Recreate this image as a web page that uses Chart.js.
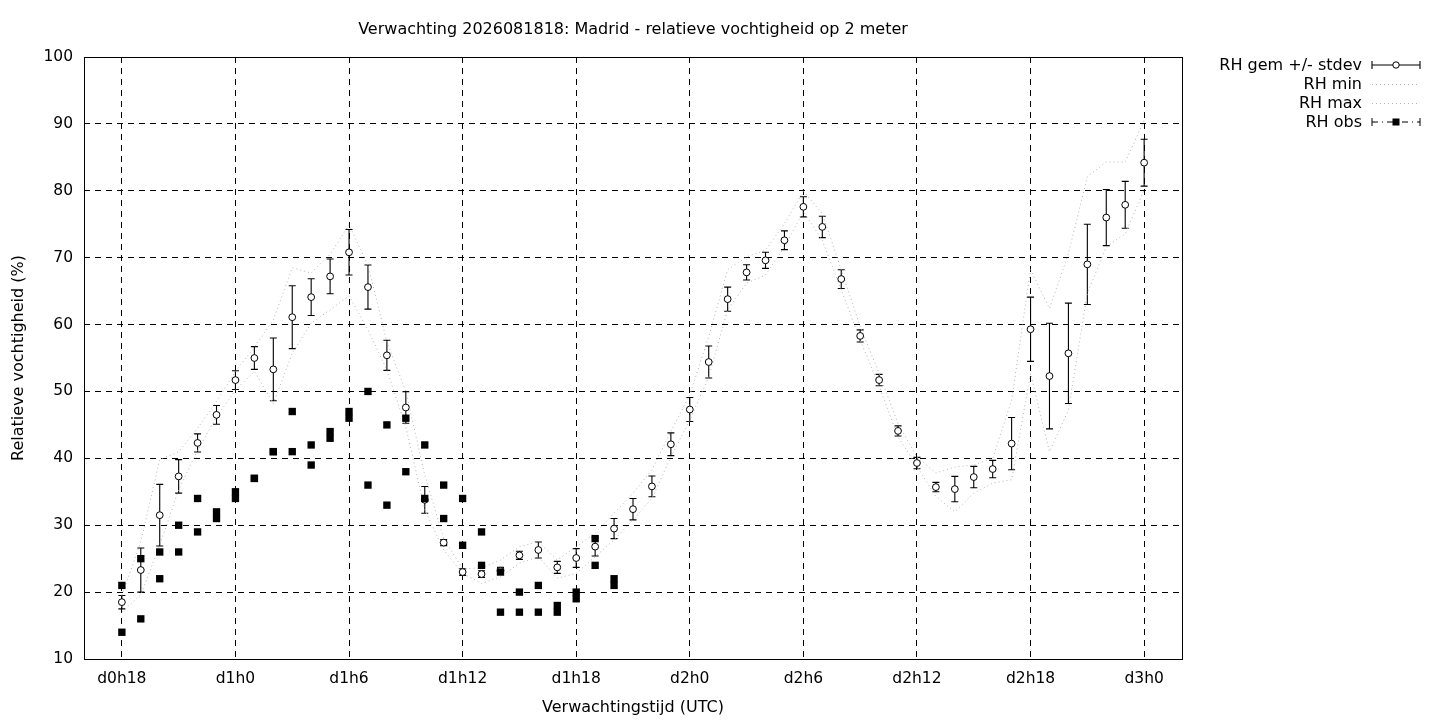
<!DOCTYPE html>
<html lang="nl">
<head>
<meta charset="UTF-8">
<title>Verwachting Madrid - relatieve vochtigheid</title>
<script src="https://cdn.jsdelivr.net/npm/chart.js"></script>
<style>
  html, body { margin: 0; padding: 0; background: #ffffff; }
  canvas { display: block; }
</style>
</head>
<body>
<canvas id="rhChart" width="1440" height="720"></canvas>
<script>
// forecast hours (d0h18 .. d3h0)
var hours = [18, 19, 20, 21, 22, 23, 24, 25, 26, 27, 28, 29, 30, 31, 32, 33, 34, 35, 36,
             37, 38, 39, 40, 41, 42, 43, 44, 45, 46, 47, 48, 49, 50, 51, 52, 53, 54, 55,
             56, 57, 58, 59, 60, 61, 62, 63, 64, 65, 66, 67, 68, 69, 70, 71, 72];

var rhMean = [18.5, 23.3, 31.5, 37.3, 42.3, 46.5, 51.7, 55.0, 53.3, 61.1, 64.1, 67.2, 70.8,
              65.6, 55.4, 47.6, 33.8, 27.4, 23.0, 22.7, 23.2, 25.5, 26.3, 23.7, 25.1, 26.8,
              29.5, 32.4, 35.8, 42.1, 47.3, 54.4, 63.8, 67.8, 69.6, 72.6, 77.6, 74.6, 66.8,
              58.3, 51.7, 44.1, 39.3, 35.7, 35.4, 37.2, 38.4, 42.2, 59.3, 52.3, 55.7, 69.0,
              76.0, 77.9, 84.2];

var rhSd = [1.0, 3.3, 4.6, 2.5, 1.35, 1.4, 1.4, 1.7, 4.7, 4.7, 2.75, 2.6, 3.4, 3.3, 2.25,
            2.35, 2.0, 0.45, 0.5, 0.5, 0.5, 0.6, 1.2, 0.9, 1.4, 1.4, 1.5, 1.6, 1.55, 1.7,
            1.8, 2.4, 1.8, 1.15, 1.2, 1.4, 1.5, 1.6, 1.4, 0.9, 0.85, 0.75, 0.85, 0.7, 1.9,
            1.6, 1.3, 3.9, 4.8, 7.9, 7.5, 6.0, 4.2, 3.5, 3.5];

var rhMin = [17.0, 19.6, 27.0, 35.3, 41.2, 46.2, 50.2, 53.0, 48.2, 55.7, 60.2, 62.2, 64.3,
             59.2, 53.2, 44.7, 32.3, 26.3, 22.8, 21.3, 22.3, 24.3, 25.3, 22.1, 22.8, 25.3,
             27.8, 30.8, 34.0, 40.2, 45.7, 52.2, 62.2, 66.2, 67.4, 71.6, 76.9, 72.6, 65.2,
             57.7, 50.8, 43.2, 38.8, 34.3, 32.0, 34.8, 36.3, 36.8, 52.7, 41.0, 47.2, 64.7,
             71.6, 73.6, 80.1];

var rhMax = [19.5, 27.5, 39.8, 41.0, 44.5, 48.5, 53.0, 56.6, 60.7, 68.5, 67.7, 70.5, 74.9,
             68.9, 57.4, 50.0, 37.5, 28.0, 23.5, 23.6, 24.8, 26.8, 27.5, 24.8, 26.8, 28.8,
             31.8, 34.8, 38.3, 44.0, 49.5, 58.2, 68.2, 70.1, 71.1, 75.1, 79.9, 76.6, 68.2,
             59.7, 52.7, 45.2, 40.2, 37.8, 38.7, 39.0, 40.0, 48.7, 68.2, 62.4, 70.6, 82.1,
             84.3, 84.3, 90.5];

// observations: two per hour, d0h18 .. d1h20
var obsHours = [18, 19, 20, 21, 22, 23, 24, 25, 26, 27, 28, 29, 30, 31, 32, 33, 34, 35,
                36, 37, 38, 39, 40, 41, 42, 43, 44];
var obsA = [21, 25, 26, 30, 34, 32, 35, 37, 41, 47, 42, 44, 47, 50, 45, 46, 42, 36, 34, 29,
            23, 20, 21, 18, 20, 28, 22];
var obsB = [14, 16, 22, 26, 29, 31, 34, 37, 41, 41, 39, 43, 46, 36, 33, 38, 34, 31, 27, 24,
            17, 17, 17, 17, 19, 24, 21];

var xTickVals = [18, 24, 30, 36, 42, 48, 54, 60, 66, 72];
var xTickLabels = ['d0h18', 'd1h0', 'd1h6', 'd1h12', 'd1h18', 'd2h0', 'd2h6', 'd2h12', 'd2h18', 'd3h0'];

var chartTitle = 'Verwachting 2026081818: Madrid - relatieve vochtigheid op 2 meter';
var legendLabels = ['RH gem +/- stdev', 'RH min', 'RH max', 'RH obs'];

var FONT = '"DejaVu Sans", sans-serif';
var GRAY = '#b4b4b4';

function pairs(xs, ys) {
    return xs.map(function (h, i) { return { x: h, y: ys[i] }; });
}

// error bars, frame, title and legend in gnuplot style
var gnuplotLook = {
    id: 'gnuplotLook',
    beforeDatasetsDraw: function (chart) {
        var ctx = chart.ctx, x = chart.scales.x, y = chart.scales.y;
        ctx.save();
        ctx.strokeStyle = '#000';
        ctx.lineWidth = 1.1;
        hours.forEach(function (h, i) {
            var px = x.getPixelForValue(h);
            var top = y.getPixelForValue(rhMean[i] + rhSd[i]);
            var bot = y.getPixelForValue(rhMean[i] - rhSd[i]);
            ctx.beginPath();
            ctx.moveTo(px, top); ctx.lineTo(px, bot);
            ctx.moveTo(px - 3.5, top); ctx.lineTo(px + 3.5, top);
            ctx.moveTo(px - 3.5, bot); ctx.lineTo(px + 3.5, bot);
            ctx.stroke();
        });
        ctx.restore();
    },
    afterDraw: function (chart) {
        var ctx = chart.ctx, a = chart.chartArea;
        ctx.save();
        // frame
        ctx.strokeStyle = '#000';
        ctx.lineWidth = 1;
        ctx.strokeRect(a.left + 0.5, a.top + 0.5, a.right - a.left, a.bottom - a.top);

        // title
        ctx.fillStyle = '#000';
        ctx.font = '16px ' + FONT;
        ctx.textAlign = 'center';
        ctx.textBaseline = 'middle';
        ctx.fillText(chartTitle, (a.left + a.right) / 2, 30);

        // legend
        var textRight = 1362, x0 = 1372, x1 = 1420, xm = 1396;
        var rowY = [66, 85, 104, 123];
        ctx.textAlign = 'right';
        legendLabels.forEach(function (lbl, i) {
            ctx.fillStyle = '#000';
            ctx.fillText(lbl, textRight, rowY[i]);
        });
        // mean +/- stdev sample
        var r0 = rowY[0] - 1;
        ctx.strokeStyle = '#000';
        ctx.lineWidth = 1.1;
        ctx.beginPath();
        ctx.moveTo(x0, r0); ctx.lineTo(x1, r0);
        ctx.moveTo(x0, r0 - 4); ctx.lineTo(x0, r0 + 4);
        ctx.moveTo(x1, r0 - 4); ctx.lineTo(x1, r0 + 4);
        ctx.stroke();
        ctx.beginPath();
        ctx.arc(xm, r0, 3.2, 0, Math.PI * 2);
        ctx.fillStyle = '#fff';
        ctx.fill();
        ctx.lineWidth = 1;
        ctx.stroke();
        // min / max samples
        ctx.strokeStyle = GRAY;
        ctx.setLineDash([1, 3]);
        [rowY[1], rowY[2]].forEach(function (ry) {
            ctx.beginPath();
            ctx.moveTo(x0, ry - 0.5); ctx.lineTo(x1, ry - 0.5);
            ctx.stroke();
        });
        // obs sample
        var r3 = rowY[3] - 1;
        ctx.strokeStyle = '#000';
        ctx.setLineDash([6, 4, 1, 4]);
        ctx.beginPath();
        ctx.moveTo(x0, r3); ctx.lineTo(x1, r3);
        ctx.stroke();
        ctx.setLineDash([]);
        ctx.beginPath();
        ctx.moveTo(x0, r3 - 4); ctx.lineTo(x0, r3 + 4);
        ctx.moveTo(x1, r3 - 4); ctx.lineTo(x1, r3 + 4);
        ctx.stroke();
        ctx.fillStyle = '#000';
        ctx.fillRect(xm - 3.5, r3 - 3.5, 7, 7);
        ctx.restore();
    }
};

var ctx = document.getElementById('rhChart').getContext('2d');
var rhChart = new Chart(ctx, {
    type: 'scatter',
    data: {
        datasets: [{
            label: 'RH obs',
            data: pairs(obsHours, obsA).concat(pairs(obsHours, obsB)),
            pointStyle: 'rect',
            pointRadius: 5.2,
            pointBackgroundColor: '#000',
            pointBorderColor: '#000',
            pointBorderWidth: 0,
            showLine: false,
            order: 0
        }, {
            label: 'RH gem +/- stdev',
            data: pairs(hours, rhMean),
            pointStyle: 'circle',
            pointRadius: 3.4,
            pointBackgroundColor: '#fff',
            pointBorderColor: '#000',
            pointBorderWidth: 1,
            showLine: false,
            order: 1
        }, {
            label: 'RH min',
            data: pairs(hours, rhMin),
            showLine: true,
            borderColor: GRAY,
            borderWidth: 1,
            borderDash: [1, 3],
            pointRadius: 0,
            fill: false,
            order: 2
        }, {
            label: 'RH max',
            data: pairs(hours, rhMax),
            showLine: true,
            borderColor: GRAY,
            borderWidth: 1,
            borderDash: [1, 3],
            pointRadius: 0,
            fill: false,
            order: 2
        }]
    },
    options: {
        responsive: false,
        animation: false,
        devicePixelRatio: 1,
        layout: { padding: { left: 0, right: 258, top: 57, bottom: 0 } },
        plugins: {
            legend: { display: false },
            title: { display: false },
            tooltip: { enabled: false }
        },
        scales: {
            x: {
                type: 'linear',
                min: 16,
                max: 74,
                afterBuildTicks: function (scale) {
                    scale.ticks = xTickVals.map(function (v) { return { value: v }; });
                },
                afterFit: function (scale) { scale.height = 61; },
                grid: { color: '#000', lineWidth: 1, drawTicks: false },
                border: { display: false, dash: [6, 5] },
                ticks: {
                    padding: 11,
                    color: '#000',
                    font: { family: FONT, size: 15.5 },
                    maxRotation: 0,
                    callback: function (v) { return xTickLabels[xTickVals.indexOf(v)]; }
                },
                title: {
                    display: true,
                    text: 'Verwachtingstijd (UTC)',
                    color: '#000',
                    font: { family: FONT, size: 16 },
                    padding: { top: 2, bottom: 3 }
                }
            },
            y: {
                min: 10,
                max: 100,
                afterFit: function (scale) { scale.width = 84; },
                grid: { color: '#000', lineWidth: 1, drawTicks: false },
                border: { display: false, dash: [6, 5] },
                ticks: {
                    stepSize: 10,
                    padding: 11,
                    color: '#000',
                    font: { family: FONT, size: 15.5 }
                },
                title: {
                    display: true,
                    text: 'Relatieve vochtigheid (%)',
                    color: '#000',
                    font: { family: FONT, size: 16 },
                    padding: { top: 9, bottom: 0 }
                }
            }
        }
    },
    plugins: [gnuplotLook]
});
</script>
</body>
</html>
